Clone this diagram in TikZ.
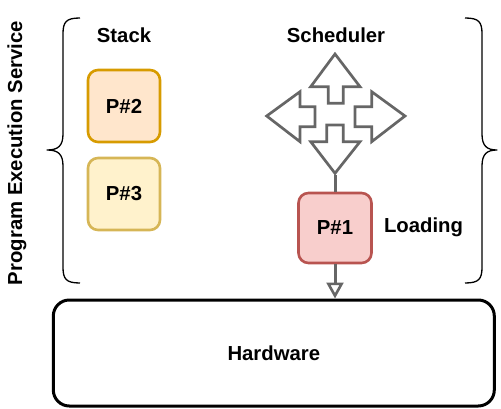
\documentclass[tikz,border=0pt]{standalone}
\usepackage{fontspec}
\setmainfont{Liberation Sans}
\usetikzlibrary{arrows.meta}
\definecolor{orfill}{HTML}{FFE6CC}
\definecolor{orline}{HTML}{D79B00}
\definecolor{yefill}{HTML}{FFF2CC}
\definecolor{yeline}{HTML}{D6B656}
\definecolor{rdfill}{HTML}{F8CECC}
\definecolor{rdline}{HTML}{B85450}
\definecolor{grayline}{HTML}{666666}
\tikzset{
  lbl/.style={font=\fontsize{20.3}{24}\selectfont\bfseries, inner sep=0pt},
  pbox/.style={lbl, draw, line width=2.6pt, rounded corners=10pt, minimum width=72pt, minimum height=72pt},
  brace/.style={line width=1.3pt, line join=round},
  quad/.style={draw=grayline, fill=white, line width=2.7pt, line join=miter},
  conn/.style={draw=grayline, line width=3pt}
}
\begin{document}
\begin{tikzpicture}[x=1pt,y=-1pt]
\useasboundingbox (0,0) rectangle (501,409);
% braces
\draw[brace] (80,18) .. controls (66,18) and (63,22) .. (63,34) -- (63,134)
  .. controls (63,146) and (58,150) .. (47,150)
  .. controls (58,150) and (63,154) .. (63,166) -- (63,267)
  .. controls (63,279) and (66,283) .. (80,283);
\draw[brace] (465,18) .. controls (479,18) and (482,22) .. (482,34) -- (482,134)
  .. controls (482,146) and (487,150) .. (497,150)
  .. controls (487,150) and (482,154) .. (482,166) -- (482,267)
  .. controls (482,279) and (479,283) .. (465,283);
% labels
\node[lbl, rotate=90] (pes) at (17,153) {Program Execution Service};
\node[lbl] (stack) at (124,35) {Stack};
\node[lbl] (sched) at (336,35) {Scheduler};
\node[lbl] (load) at (423.5,227) {Loading};
% boxes
\node[pbox, fill=orfill, draw=orline] (p2) at (124,106) {P\#2};
\node[pbox, fill=yefill, draw=yeline] (p3) at (124,194) {P\#3};
\node[pbox, fill=rdfill, draw=rdline, minimum width=73pt, minimum height=70pt] (p1) at (335,228) {P\#1};
\node[lbl, draw, line width=3pt, rounded corners=16pt, minimum width=441pt, minimum height=106pt] (hw) at (273.8,353) {Hardware};
% quad arrow (four arrows)
\draw[quad] (335,54) -- (360,86.7) -- (343.3,86.7) -- (343.3,103.3) -- (328.3,103.3) -- (328.3,86.7) -- (310.7,86.7) -- cycle;
\draw[quad] (266.7,116) -- (300,91.7) -- (300,106.7) -- (315,106.7) -- (315,126.7) -- (300,126.7) -- (300,141.7) -- cycle;
\draw[quad] (405,116) -- (371.7,91.7) -- (371.7,106.7) -- (355,106.7) -- (355,126.7) -- (371.7,126.7) -- (371.7,141.7) -- cycle;
\draw[quad] (335,173.3) -- (360,141.7) -- (343.3,141.7) -- (343.3,125) -- (326.7,125) -- (326.7,141.7) -- (310.7,141.7) -- cycle;
\coordinate (qtip) at (335,174.6);
\coordinate (hwin) at (335,298.5);
% connectors
\draw[conn] (qtip) -- (p1.north);
\draw[conn, -{Triangle[open, length=16pt, width=17pt, line width=2.6pt]}] (p1.south) -- (hwin);
\end{tikzpicture}
\end{document}
